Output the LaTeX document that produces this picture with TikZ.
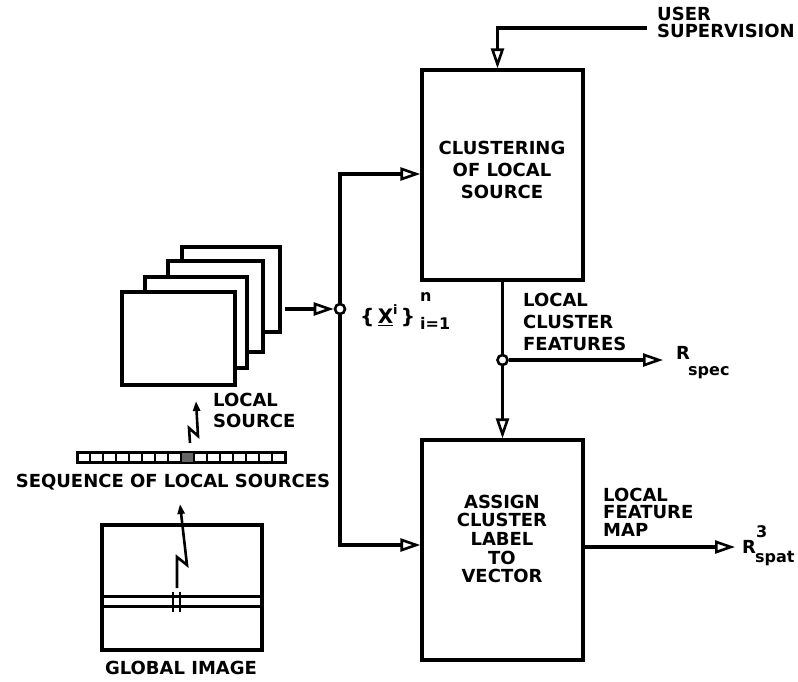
\documentclass[tikz,border=0pt]{standalone}
\usepackage{fontspec}
\setmainfont{DejaVu Sans}
\usetikzlibrary{arrows.meta}
\tikzset{
  wire/.style={line width=3.2pt},
  arr/.style={wire, -{Triangle[open,length=20pt,width=13pt,line width=2.6pt]}},
  box/.style={draw, line width=3.2pt, fill=white, inner sep=0pt},
  frame/.style={draw, line width=3.2pt, fill=white},
  lbl/.style={font=\fontsize{18}{22}\selectfont\bfseries, inner sep=0pt},
  small/.style={font=\fontsize{16}{16}\selectfont\bfseries, inner sep=0pt},
  jdot/.style={circle, draw, line width=2.6pt, fill=white, minimum size=10pt, inner sep=0pt},
  bolt/.style={line width=2.6pt, -{Triangle[length=10pt,width=7pt]}},
}
\begin{document}
\begin{tikzpicture}[x=1pt,y=-1pt]
\useasboundingbox (0,0) rectangle (798,681);

% main boxes
\node[box, minimum width=161pt, minimum height=210pt] (clust) at (502.5,175) {};
\node[box, minimum width=161pt, minimum height=220pt] (assign) at (502.5,550) {};
\node[lbl, align=center, font=\fontsize{18}{22}\selectfont\bfseries] (clusttxt) at (502,170) {CLUSTERING\\OF LOCAL\\SOURCE};
\node[lbl, align=center, font=\fontsize{18}{18.7}\selectfont\bfseries] (assigntxt) at (502,539) {ASSIGN\\CLUSTER\\LABEL\\TO\\VECTOR};

% user supervision
\coordinate (us) at (647,28);
\draw[arr] (us) -| ([xshift=-5pt]clust.north);
\node[lbl, align=left, anchor=west, font=\fontsize{18}{17}\selectfont\bfseries] (ustxt) at (657,22.5) {USER\\SUPERVISION};

% junction below clustering
\node[jdot] (j2) at (502.5,360) {};
\draw[wire] (clust.south) -- (j2);
\draw[arr] (j2) -- (assign.north);
\coordinate (rs) at (663,360);
\draw[arr] (j2) -- (rs);
\node[lbl, align=left, anchor=west] (lcf) at (523,322) {LOCAL\\CLUSTER\\FEATURES};
\node[lbl, anchor=west] (rspecR) at (676,353) {R};
\node[small, anchor=west] (rspecs) at (688,373) {spec};

% output feature map
\coordinate (rsp) at (735,547);
\draw[arr] ([yshift=3pt]assign.east) -- (rsp);
\node[lbl, align=left, anchor=west, font=\fontsize{18}{17.5}\selectfont\bfseries] (lfm) at (603,512) {LOCAL\\FEATURE\\MAP};
\node[lbl, anchor=west] (r3R) at (742,547) {R};
\node[small, anchor=west] (r3n) at (756,532) {3};
\node[small, anchor=west] (r3s) at (755,559) {spat};

% stack of local sources
\node[frame, minimum width=98pt, minimum height=85pt, inner sep=0pt] (f4) at (231,289.5) {};
\node[frame, minimum width=95pt, minimum height=91pt, inner sep=0pt] (f3) at (215.5,306.5) {};
\node[frame, minimum width=102pt, minimum height=91pt, inner sep=0pt] (f2) at (196,322.5) {};
\node[frame, minimum width=113pt, minimum height=93pt, inner sep=0pt] (f1) at (178.5,338.5) {};

% bus junction
\node[jdot] (j1) at (340,309) {};
\coordinate (s) at (285,309);
\draw[arr] (s) -- (j1.west);
\draw[arr] (j1) |- ([yshift=1pt]clust.west);
\draw[arr] (j1) |- ([yshift=5pt]assign.west);
\node[lbl, anchor=west, font=\fontsize{20}{20}\selectfont\bfseries] (xbr) at (360,316) {\{\,\underline{X}\raisebox{9pt}{\fontsize{13}{13}\selectfont i}\,\}};
\node[small, anchor=west] (xn) at (420,297) {n};
\node[small, anchor=west] (xi) at (420,323) {i=1};

% local source label and bolt
\node[lbl, align=left, anchor=west, font=\fontsize{18}{21}\selectfont\bfseries] (lstxt) at (213,410) {LOCAL\\SOURCE};
\coordinate (b1a) at (190,443);
\coordinate (b1b) at (196,401);
\draw[bolt] (b1a) -- (189,428) -- (198,436) -- (b1b);

% sequence bar
\node[draw, line width=3pt, minimum width=208pt, minimum height=10pt, inner sep=0pt] (seq) at (181,457.5) {};
\fill[black!60] (181,453) rectangle (194,462);
\foreach \k in {1,...,15} {\draw[line width=2.2pt] (77+13*\k,453) -- (77+13*\k,462);}
\node[lbl] (seqtxt) at (173,482) {SEQUENCE OF LOCAL SOURCES};

% global image
\node[frame, minimum width=160pt, minimum height=125pt, inner sep=0pt] (gimg) at (182,587.5) {};
\draw[line width=3pt] (gimg.west |- 0,596) -- (gimg.east |- 0,596);
\draw[line width=3pt] (gimg.west |- 0,606) -- (gimg.east |- 0,606);
\draw[line width=2.4pt] (173,592) -- (173,612);
\draw[line width=2.4pt] (180,592) -- (180,612);
\coordinate (b2a) at (177,588);
\coordinate (b2b) at (180,504);
\draw[bolt] (b2a) -- (177,557) -- (187,565) -- (b2b);
\node[lbl] (gtxt) at (181,668) {GLOBAL IMAGE};
\end{tikzpicture}
\end{document}
